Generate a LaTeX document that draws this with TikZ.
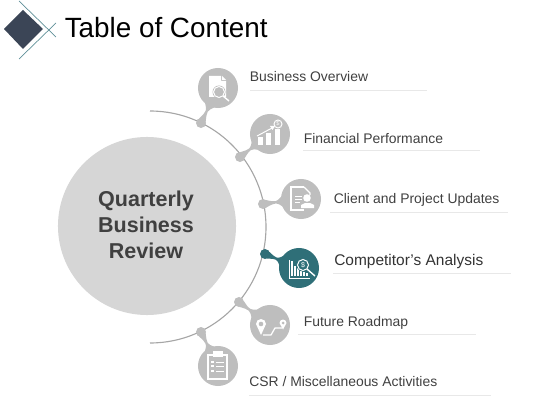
\documentclass[tikz,border=0pt]{standalone}
\usepackage{xcolor}
\usepackage{fontspec}
\setmainfont{Liberation Sans}
\usepackage{tikz}
\usetikzlibrary{calc}

\definecolor{softgray}{HTML}{BEBEBE}
\definecolor{discgray}{HTML}{D6D6D6}
\definecolor{arcgray}{HTML}{A6A6A6}
\definecolor{rulegray}{HTML}{E8E8E8}
\definecolor{labeltext}{HTML}{404040}
\definecolor{tealdark}{HTML}{2F6F78}
\definecolor{tealline}{HTML}{5F9098}
\definecolor{slatedark}{HTML}{3B4556}

\begin{document}
\begin{tikzpicture}[x=0.025cm,y=-0.025cm,
  bubble/.style={circle,minimum size=1cm,inner sep=0pt,fill=softgray},
  joint/.style={circle,minimum size=0.25cm,inner sep=0pt,fill=softgray},
  itemlabel/.style={anchor=base west,inner sep=0pt,text=labeltext,font=\fontsize{9.9pt}{12pt}\selectfont},
  itemrule/.style={rulegray,line width=0.6pt},
  glyph/.style={white,line width=0.7pt}]
  \useasboundingbox (0,0) rectangle (560,420);
  % header mark
  \fill[slatedark] (4,29) -- (23,10) -- (43,29) -- (23,49) -- cycle;
  \draw[tealline,line width=0.5pt] (19,1) -- (56,37);
  \draw[tealline,line width=0.5pt] (19,59) -- (56,23);
  \node[anchor=base west,inner sep=0pt,font=\fontsize{19.8pt}{23pt}\selectfont] (title) at (64.5,38) {Table of Content};
  % centre disc
  \node[circle,minimum size=4.45cm,inner sep=0pt,fill=discgray] (disc) at (147,226) {};
  \node[align=center,text=labeltext,font=\fontsize{15.3pt}{18.4pt}\selectfont\bfseries] (disctext) at (146,225) {Quarterly\\Business\\Review};
  % arc
  \draw[arcgray,line width=0.8pt] (150,111) arc[start angle=-90,end angle=90,radius=116];
  % joints and bubbles
  \node[joint] (jointa) at (201,123) {};
  \node[joint] (jointb) at (240,157) {};
  \node[joint] (jointc) at (263,204) {};
  \node[joint,fill=tealdark] (jointd) at (265,254) {};
  \node[joint] (jointe) at (239,302) {};
  \node[joint] (jointf) at (201,332) {};
  \node[bubble] (bubblea) at (218,88) {};
  \node[bubble] (bubbleb) at (270,134) {};
  \node[bubble] (bubblec) at (301,199) {};
  \node[bubble,fill=tealdark] (bubbled) at (299,268) {};
  \node[bubble] (bubblee) at (270,325) {};
  \node[bubble] (bubblef) at (218,366) {};
  \foreach \j/\b/\c in {jointa/bubblea/softgray,jointb/bubbleb/softgray,jointc/bubblec/softgray,jointd/bubbled/tealdark,jointe/bubblee/softgray,jointf/bubblef/softgray}{
    \draw[\c,line width=0.8pt] (\j) -- (\b);
    \fill[\c] ($(\j)!0.12cm!50:(\b)$) .. controls ($(\j)!0.35!(\b)$) .. ($(\b)!0.49cm!-16:(\j)$)
      -- ($(\b)!0.49cm!16:(\j)$) .. controls ($(\j)!0.35!(\b)$) .. ($(\j)!0.12cm!-50:(\b)$) -- cycle;
  }
  % labels
  \node[itemlabel] (labela) at (249.5,82) {Business Overview};
  \draw[itemrule] (250,90) -- (427,90);
  \node[itemlabel] (labelb) at (303.5,143) {Financial Performance};
  \draw[itemrule] (303,150) -- (480,150);
  \node[itemlabel] (labelc) at (333.5,203) {Client and Project Updates};
  \draw[itemrule] (330,212) -- (508,212);
  \node[itemlabel,text=black!80,font=\fontsize{11pt}{13pt}\selectfont] (labeld) at (334,265) {Competitor’s Analysis};
  \draw[itemrule] (333,273) -- (511,273);
  \node[itemlabel] (labele) at (303.5,326) {Future Roadmap};
  \draw[itemrule] (298,334) -- (476,334);
  \node[itemlabel] (labelf) at (249,386) {CSR / Miscellaneous Activities};
  \draw[itemrule] (249,395) -- (491,395);
  % document with lens
  \begin{scope}[shift={(218,88)}]
    \fill[white] (-9,-12) -- (3,-12) -- (3,-7) -- (8,-7) -- (8,9) -- (-9,9) -- cycle;
    \fill[white] (4,-12) -- (8,-8) -- (4,-8) -- cycle;
    \fill[softgray] (1,4) circle (6.5);
    \draw[glyph] (1,4) circle (5.5);
    \draw[softgray,line width=0.6pt] (1,4) circle (3.5);
    \draw[glyph,line width=1pt] (5,8) -- (11,13);
  \end{scope}
  % bars with arrow
  \begin{scope}[shift={(270,134)}]
    \fill[white] (-12,3) rectangle (-7,11);
    \fill[white] (-4,-1) rectangle (1,11);
    \fill[white] (5,-5) rectangle (10,11);
    \draw[glyph] (-13,2) -- (3,-6.5);
    \fill[white] (5,-8) -- (0,-8) -- (2.5,-4) -- cycle;
    \draw[glyph] (8,-10) circle (4);
    \node[white,inner sep=0pt,font=\fontsize{4pt}{4pt}\selectfont] (dollarb) at (8,-10) {\$};
  \end{scope}
  % document with person
  \begin{scope}[shift={(301,199)}]
    \draw[glyph,line width=1pt] (3,-12) -- (-10,-12) -- (-10,11) -- (3,11);
    \draw[glyph,line width=1pt] (3,-12) -- (9,-6) -- (9,-4);
    \draw[glyph] (-6,-3) -- (1,-3);
    \draw[glyph] (-6,0) -- (1,0);
    \draw[glyph] (-6,3) -- (-1,3);
    \fill[white] (6,-1) circle (3.8);
    \fill[white] (0,9) -- (0,6) -- (4,4) -- (9,4) -- (13,6) -- (13,9) -- cycle;
  \end{scope}
  % chart with lens
  \begin{scope}[shift={(299,268)}]
    \draw[glyph] (-10,-8) -- (-10,10) -- (11,10);
    \foreach \x/\top in {-7/-7,-4/-2,-1/-1,2/3,5/4,8/5}{
      \draw[glyph,line width=1pt] (\x,\top) -- (\x,8);
    }
    \fill[tealdark] (4,-3) circle (6.5);
    \draw[glyph] (4,-3) circle (5.5);
    \node[white,inner sep=0pt,font=\fontsize{5pt}{5pt}\selectfont] (dollard) at (4,-3) {\$};
    \draw[glyph,line width=1pt] (8,1) -- (16,8);
  \end{scope}
  % route with pins
  \begin{scope}[shift={(270,325)}]
    \fill[white] (-14,-1) arc[start angle=180,end angle=360,radius=5] -- (-9,10) -- cycle;
    \fill[softgray] (-9,-1) circle (2.3);
    \fill[white] (9.5,-2) arc[start angle=180,end angle=360,radius=3.5] -- (13,4.5) -- cycle;
    \fill[softgray] (13,-2) circle (1.5);
    \draw[glyph,line width=0.9pt] (-7,10) -- (1,10) -- (5,3) -- (12,3);
  \end{scope}
  % clipboard
  \begin{scope}[shift={(218,366)}]
    \draw[glyph,line width=1pt] (-10,-11) rectangle (9,13);
    \fill[white] (-5,-15) rectangle (5,-9);
    \foreach \y in {-4,0,5}{
      \fill[white] (-7,\y-1) rectangle (-4,\y+1);
      \draw[glyph] (-2,\y) -- (6,\y);
    }
  \end{scope}
\end{tikzpicture}
\end{document}
